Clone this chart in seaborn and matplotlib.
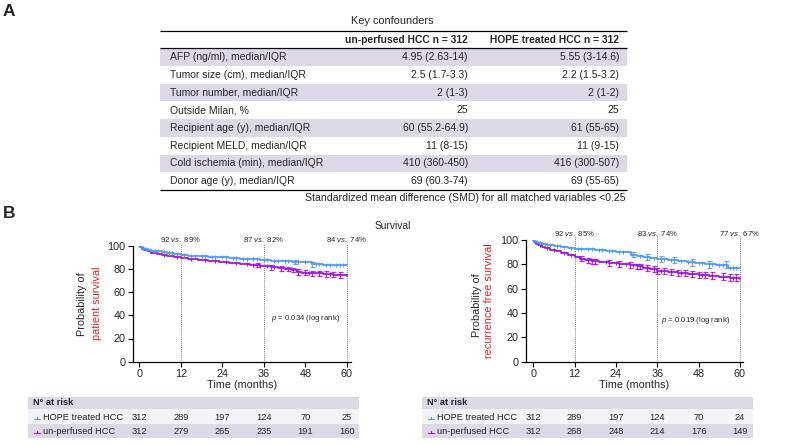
import numpy as np
import matplotlib
matplotlib.use("Agg")
import matplotlib.pyplot as plt
import matplotlib.transforms as mtransforms
import seaborn as sns

sns.set_style("ticks")
plt.rcParams['font.family'] = ['Liberation Sans', 'DejaVu Sans']
plt.rcParams['mathtext.fontset'] = 'custom'
plt.rcParams['mathtext.it'] = 'Liberation Sans:italic'
plt.rcParams['mathtext.rm'] = 'Liberation Sans'

BLUE = '#4f9cf3'
PURPLE = '#a215dc'
RED = '#ec1c24'
SHADE = '#dcd8e6'
LIGHT = '#f4f3f8'

# ---- panel A table ----
row_labels = ["AFP (ng/ml), median/IQR", "Tumor size (cm), median/IQR",
              "Tumor number, median/IQR", "Outside Milan, %",
              "Recipient age (y), median/IQR", "Recipient MELD, median/IQR",
              "Cold ischemia (min), median/IQR", "Donor age (y), median/IQR"]
unperfused_vals = ["4.95 (2.63-14)", "2.5 (1.7-3.3)", "2 (1-3)", "25",
                   "60 (55.2-64.9)", "11 (8-15)", "410 (360-450)", "69 (60.3-74)"]
hope_vals = ["5.55 (3-14.6)", "2.2 (1.5-3.2)", "2 (1-2)", "25",
             "61 (55-65)", "11 (9-15)", "416 (300-507)", "69 (55-65)"]

# ---- panel B: Kaplan-Meier curves ----
os_t_hope = [0, 0.3, 0.8, 1.5, 2.5, 3.5, 5, 6.5, 8, 10, 12, 14, 17, 20, 23, 26,
             29, 32, 35, 38, 41, 44, 47, 49.8, 53, 60]
os_s_hope = [100, 99, 98, 97, 96.3, 95.6, 95, 94.2, 93.5, 92.8, 92, 91.5, 91, 90.4,
             90, 89.3, 88.8, 88.2, 87.5, 87, 86.6, 86.2, 85.8, 84, 83.6, 83.6]
os_t_unp = [0, 0.3, 0.8, 1.5, 2.5, 3.5, 5, 6.5, 8, 10, 12, 14, 17, 20, 23, 26, 29,
            32, 35, 38, 40, 42, 44, 45.5, 47, 50, 53, 56, 60]
os_s_unp = [100, 98.5, 97.2, 96, 95, 94, 93, 92, 91.2, 90.3, 89.3, 88.6, 87.6, 86.7,
            85.8, 85, 84.2, 83.3, 82.3, 81.3, 80.6, 79.8, 79, 77.3, 76.8, 76.2, 75.6,
            75, 74.3]
os_cens_hope = [1, 2, 3, 4.5, 5.5, 7, 8.5, 9.5, 11, 13, 15, 16, 18, 19, 21, 22, 24, 25,
                27, 28, 30, 31, 33, 34, 36, 37, 39, 40, 42, 43, 45, 46, 48, 51, 52, 54,
                55, 57, 58, 59]
os_cens_unp = [3, 7, 11, 15, 19, 22, 25, 28, 31, 33, 35, 37, 39, 41, 43, 46, 49, 52,
               55, 58]
os_err_t_hope = [45, 50]
os_err_hope = [1.8, 2.0]
os_err_t_unp = [34, 38, 41, 43, 44.5, 46, 48, 50, 52, 54, 56, 58]
os_err_unp = [1.8, 1.9, 2.0, 2.0, 2.1, 2.2, 2.2, 2.3, 2.3, 2.4, 2.4, 2.5]

rfs_t_hope = [0, 0.3, 0.8, 1.5, 2.5, 4, 6, 8, 10, 12, 15, 18, 21, 24, 27, 28.5, 30,
              32, 34, 36, 39, 42, 44.6, 47, 50, 53, 56.5, 60]
rfs_s_hope = [100, 99, 98, 97.3, 96.6, 95.8, 95, 94.2, 93.6, 92.8, 92.2, 91.6, 91,
              90.4, 89.8, 88, 87, 86, 85, 84.2, 83.5, 82.8, 81.6, 81, 80, 79.6, 77.2,
              77.2]
rfs_t_unp = [0, 0.3, 0.8, 1.5, 2.5, 3.5, 5, 6.5, 8, 10, 12, 13.5, 15, 17, 19, 22, 25,
             28, 30, 32, 34, 36, 39, 42, 45, 48, 51, 54, 57, 60]
rfs_s_unp = [100, 98.5, 97, 95.8, 94.5, 93.3, 92, 90.6, 89.3, 87.7, 85.8, 84.5, 83.5,
             82.5, 81.8, 81.2, 80.4, 79.3, 78.3, 77.2, 76, 74.6, 73.8, 73, 72.3, 71.4,
             70.8, 70, 69.1, 68.3]
rfs_cens_hope = [1, 2, 3.5, 5, 7, 9, 11, 13, 14, 16, 17, 19, 20, 22, 23, 25, 26, 29,
                 31, 33, 35, 37, 38, 40, 41, 43, 45, 46, 48, 49, 51, 52, 54, 55, 57, 58, 59]
rfs_cens_unp = [2, 4, 6, 9, 11, 14, 16, 18, 21, 24, 27, 29, 31, 33, 35, 37, 40, 43,
                46, 49, 52, 55, 58]
rfs_err_t_hope = [29, 33, 37, 41, 46, 51, 56]
rfs_err_hope = [2.0, 2.2, 2.3, 2.4, 2.6, 2.8, 3.0]
rfs_err_t_unp = [14, 16, 17, 18, 22, 25, 28, 30, 31, 33, 35, 36, 38, 40, 42, 44, 46,
                 48, 50, 52, 55, 57, 59]
rfs_err_unp = [2.0, 2.0, 2.1, 2.1, 2.2, 2.2, 2.3, 2.3, 2.3, 2.4, 2.4, 2.4, 2.5, 2.5,
               2.5, 2.6, 2.6, 2.6, 2.7, 2.7, 2.8, 2.8, 2.8]

risk_times = [0, 12, 24, 36, 48, 60]
os_risk_hope = [312, 289, 197, 124, 70, 25]
os_risk_unp = [312, 279, 265, 235, 191, 160]
rfs_risk_hope = [312, 289, 197, 124, 70, 24]
rfs_risk_unp = [312, 268, 248, 214, 176, 149]

os_landmarks = [("92", "89%"), ("87", "82%"), ("84", "74%")]
rfs_landmarks = [("92", "85%"), ("83", "74%"), ("77", "67%")]

fig = plt.figure(figsize=(7.87, 4.44), dpi=100)
bg = fig.add_axes([0, 0, 1, 1])
bg.set_xlim(0, 787)
bg.set_ylim(444, 0)
bg.axis('off')

# ---- panel A ----
bg.text(3, 12, "A", fontsize=12.5, fontweight='bold', va='center', ha='left')
bg.text(392, 21, "Key confounders", fontsize=7.9, ha='center', va='center')
tx0, tx1 = 160, 627
row_h = 17.7
top_hdr = 48.3
for i, lab in enumerate(row_labels):
    y0 = top_hdr + i * row_h
    if i % 2 == 0:
        bg.add_patch(plt.Rectangle((tx0, y0), tx1 - tx0, row_h, color=SHADE, lw=0))
    yc = y0 + row_h / 2
    bg.text(170, yc, lab, fontsize=7.5, va='center', ha='left')
    bg.text(468, yc, unperfused_vals[i], fontsize=7.5, va='center', ha='right')
    bg.text(619, yc, hope_vals[i], fontsize=7.5, va='center', ha='right')
bg.hlines([31, top_hdr, top_hdr + 8 * row_h], tx0, tx1, colors='black', lw=0.9)
bg.text(468, 39.8, "un-perfused HCC n = 312", fontsize=7.4, fontweight='bold',
        ha='right', va='center')
bg.text(619, 39.8, "HOPE treated HCC n = 312", fontsize=7.4, fontweight='bold',
        ha='right', va='center')
bg.text(626, 197.5, "Standardized mean difference (SMD) for all matched variables <0.25",
        fontsize=7.6, ha='right', va='center')

# ---- panel B ----
bg.text(3, 213, "B", fontsize=12.5, fontweight='bold', va='center', ha='left')
bg.text(393, 226, "Survival", fontsize=7.4, ha='center', va='center')


def surv_at(times, surv, pts):
    idx = np.searchsorted(times, pts, side='right') - 1
    return np.asarray(surv)[idx]


def km_panel(ax, t_h, s_h, t_u, s_u, c_h, c_u, et_h, ee_h, et_u, ee_u, marks,
             annot_y, line_top, pval, pxy):
    for t, s, c, et, ee, col in [(t_u, s_u, c_u, et_u, ee_u, PURPLE),
                                 (t_h, s_h, c_h, et_h, ee_h, BLUE)]:
        sns.lineplot(x=t, y=s, drawstyle='steps-post', color=col, lw=1.3,
                     estimator=None, ax=ax)
        ax.plot(c, surv_at(t, s, c), ls='none', marker='|', ms=3, mew=0.8,
                color=col)
        ax.errorbar(et, surv_at(t, s, et), yerr=ee, fmt='none', ecolor=col,
                    elinewidth=0.9, capsize=1.8, capthick=0.9, alpha=0.85)
    ax.vlines([12, 36, 60], 0, line_top, colors='#444444', lw=0.6,
              linestyles=(0, (1, 1.5)), clip_on=False, zorder=0)
    for x, (a, b) in zip([12, 36, 60], marks):
        ax.text(x, annot_y, a + " $\\it{vs.}\\;$" + b, fontsize=5.6, ha='center',
                va='center', clip_on=False)
    ax.text(pxy[0], pxy[1], pval, fontsize=5.6, ha='center', va='center')
    ax.set_ylim(0, 100)
    ax.set_xticks(risk_times)
    ax.set_yticks([0, 20, 40, 60, 80, 100])
    ax.set_xlabel("Time (months)", fontsize=7.8, labelpad=0.5)
    ax.set_ylabel("")
    ax.tick_params(axis='both', labelsize=7.8, length=3.5, width=0.8, pad=1.8,
                   color='black')
    for sp in ['left', 'bottom']:
        ax.spines[sp].set_linewidth(0.9)
        ax.spines[sp].set_color('black')
    sns.despine(ax=ax)
    ax.patch.set_alpha(0)


def risk_table(ax, x0, x1, hope_counts, unp_counts):
    bg.add_patch(plt.Rectangle((x0, 396.7), x1 - x0, 12.3, color=SHADE, lw=0))
    bg.add_patch(plt.Rectangle((x0, 409), x1 - x0, 14.5, color=LIGHT, lw=0))
    bg.add_patch(plt.Rectangle((x0, 423.5), x1 - x0, 14.5, color=SHADE, lw=0))
    bg.text(x0 + 5, 402.8, "N° at risk", fontsize=6.7, fontweight='bold',
            ha='left', va='center')
    for yc, lab, col in [(417, "HOPE treated HCC", BLUE), (431, "un-perfused HCC", PURPLE)]:
        bg.plot([x0 + 6, x0 + 12], [yc + 1.5, yc + 1.5], color=col, lw=0.8)
        bg.plot([x0 + 9, x0 + 9], [yc - 0.5, yc + 1.5], color=col, lw=0.8)
        bg.text(x0 + 15, yc, lab, fontsize=6.7, ha='left', va='center')
    tr = mtransforms.blended_transform_factory(ax.transData, bg.transData)
    for t, n in zip(risk_times, hope_counts):
        bg.text(t, 417, str(n), fontsize=6.7, ha='center', va='center', transform=tr)
    for t, n in zip(risk_times, unp_counts):
        bg.text(t, 431, str(n), fontsize=6.7, ha='center', va='center', transform=tr)


ax1 = fig.add_axes([133 / 787, (444 - 361.7) / 444, 218 / 787, 116 / 444])
ax1.set_xlim(-1.82, 61.2)
km_panel(ax1, os_t_hope, os_s_hope, os_t_unp, os_s_unp, os_cens_hope, os_cens_unp,
         os_err_t_hope, os_err_hope, os_err_t_unp, os_err_unp, os_landmarks,
         105.5, 102, "$p$ = 0.034 (log rank)", (48, 37.5))
bg.text(82, 304, "Probability of", fontsize=7.8, rotation=90, ha='center', va='center')
bg.text(97, 303, "patient survival", fontsize=7.8, rotation=90, ha='center',
        va='center', color=RED)
risk_table(ax1, 28, 359, os_risk_hope, os_risk_unp)

ax2 = fig.add_axes([526 / 787, (444 - 361.7) / 444, 217 / 787, 121.7 / 444])
ax2.set_xlim(-2.1, 60.9)
km_panel(ax2, rfs_t_hope, rfs_s_hope, rfs_t_unp, rfs_s_unp, rfs_cens_hope, rfs_cens_unp,
         rfs_err_t_hope, rfs_err_hope, rfs_err_t_unp, rfs_err_unp, rfs_landmarks,
         105.7, 103, "$p$ = 0.019 (log rank)", (47, 34))
bg.text(477, 305, "Probability of", fontsize=7.8, rotation=90, ha='center', va='center')
bg.text(489, 301, "recurrence free survival", fontsize=7.8, rotation=90, ha='center',
        va='center', color=RED)
risk_table(ax2, 422, 753, rfs_risk_hope, rfs_risk_unp)

fig.savefig("out.png", dpi=100)
